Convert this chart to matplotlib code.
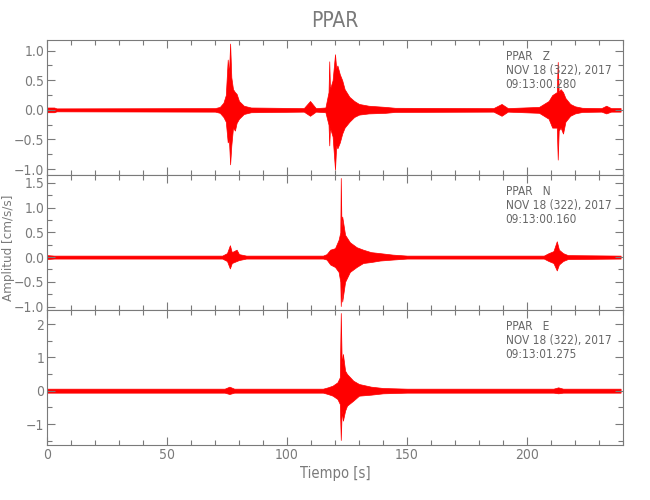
import matplotlib
matplotlib.use("Agg")
import matplotlib.pyplot as plt
from matplotlib.ticker import MultipleLocator

plt.rcParams['font.family'] = ['DejaVu Sans']
plt.rcParams['font.stretch'] = 'condensed'

# envelope of each component (time [s], upper, lower)
z_t = [0, 3, 4, 70, 72, 73.5, 74.5, 75.3, 75.8, 76.3, 76.8, 77.5, 78.3, 79, 80, 82, 85,
       107, 109.6, 112, 116, 117.3, 117.6, 117.9, 119, 120, 120.5, 121, 122, 123, 124, 126,
       128, 130, 134, 141, 145, 186, 189.4, 192, 205, 207, 209, 210.5, 212.4, 212.8, 213.2,
       214, 215, 216, 218, 220, 223, 231, 233, 235, 239]
z_up = [0.04, 0.04, 0.025, 0.03, 0.05, 0.12, 0.25, 0.85, 0.6, 1.12, 0.55, 0.35, 0.3, 0.27, 0.15, 0.07, 0.04,
        0.03, 0.15, 0.03, 0.04, 0.3, 0.82, 0.35, 0.5, 0.94, 0.7, 0.75, 0.6, 0.5, 0.35, 0.22,
        0.15, 0.1, 0.07, 0.05, 0.035, 0.03, 0.1, 0.03, 0.05, 0.1, 0.15, 0.25, 0.3, 0.81, 0.3,
        0.35, 0.3, 0.2, 0.1, 0.06, 0.035, 0.03, 0.07, 0.03, 0.03]
z_lo = [-0.04, -0.04, -0.025, -0.03, -0.05, -0.12, -0.2, -0.55, -0.5, -0.92, -0.6, -0.3, -0.35, -0.22, -0.15, -0.07, -0.04,
        -0.03, -0.1, -0.03, -0.04, -0.25, -0.6, -0.3, -0.45, -1.01, -0.6, -0.65, -0.55, -0.4, -0.3, -0.2,
        -0.12, -0.08, -0.06, -0.05, -0.035, -0.03, -0.1, -0.03, -0.05, -0.1, -0.15, -0.3, -0.3, -0.84, -0.35,
        -0.3, -0.4, -0.2, -0.1, -0.06, -0.035, -0.03, -0.06, -0.03, -0.03]

n_t = [0, 3, 73, 75, 76.2, 77, 79, 80, 83, 115, 116.5, 118, 120, 121.5, 122.2, 122.4, 122.7, 123,
       124.2, 126.2, 129, 131.7, 135, 138.7, 144, 150, 207, 209, 211, 212.4, 213.3, 215, 217, 239]
n_up = [0.04, 0.03, 0.03, 0.08, 0.24, 0.1, 0.15, 0.06, 0.03, 0.03, 0.06, 0.15, 0.18, 0.35, 0.5, 1.6, 0.6, 0.82,
        0.45, 0.3, 0.2, 0.15, 0.1, 0.08, 0.05, 0.03, 0.03, 0.08, 0.12, 0.32, 0.15, 0.08, 0.04, 0.03]
n_lo = [-0.04, -0.03, -0.03, -0.08, -0.23, -0.12, -0.08, -0.06, -0.03, -0.03, -0.05, -0.15, -0.2, -0.3, -0.5, -0.99, -0.6, -0.9,
        -0.5, -0.3, -0.2, -0.12, -0.1, -0.07, -0.05, -0.03, -0.03, -0.08, -0.12, -0.27, -0.15, -0.08, -0.04, -0.03]

e_t = [0, 74, 76, 78, 115, 117, 119, 121, 122, 122.4, 122.8, 123.3, 124.2, 125, 127.6, 130, 135,
       140, 150, 211, 213, 215, 239]
e_up = [0.06, 0.06, 0.12, 0.06, 0.06, 0.1, 0.15, 0.25, 0.4, 2.33, 0.8, 1.1, 0.6, 0.5, 0.3, 0.2, 0.12,
        0.08, 0.06, 0.06, 0.1, 0.06, 0.06]
e_lo = [-0.06, -0.06, -0.1, -0.06, -0.06, -0.1, -0.15, -0.25, -0.4, -1.48, -0.6, -0.9, -0.6, -0.45, -0.3, -0.15, -0.12,
        -0.08, -0.06, -0.06, -0.08, -0.06, -0.06]

components = ['Z', 'N', 'E']
start_times = ['09:13:00.280', '09:13:00.160', '09:13:01.275']
ylims = [(-1.1, 1.18), (-1.07, 1.66), (-1.63, 2.42)]
yticks = [[-1.0, -0.5, 0.0, 0.5, 1.0], [-1.0, -0.5, 0.0, 0.5, 1.0, 1.5], [-1, 0, 1, 2]]
ylabels = [['\u22121.0', '\u22120.5', '0.0', '0.5', '1.0'],
           ['\u22121.0', '\u22120.5', '0.0', '0.5', '1.0', '1.5'],
           ['\u22121', '0', '1', '2']]
yminor = [0.25, 0.25, 0.5]
traces = [(z_t, z_up, z_lo), (n_t, n_up, n_lo), (e_t, e_up, e_lo)]

gray = '#7a7a7a'
fig = plt.figure(figsize=(6.5, 5), dpi=100)
bottoms = [0.65, 0.38, 0.11]

for i in range(3):
    ax = fig.add_axes([0.0723, bottoms[i], 0.8862, 0.27])
    t, up, lo = traces[i]
    ax.fill_between(t, lo, up, color='red', lw=0.5)
    ax.set_xlim(0, 240)
    ax.set_ylim(*ylims[i])
    ax.set_yticks(yticks[i])
    ax.set_yticklabels(ylabels[i])
    ax.yaxis.set_minor_locator(MultipleLocator(yminor[i]))
    ax.xaxis.set_major_locator(MultipleLocator(50))
    ax.xaxis.set_minor_locator(MultipleLocator(10))
    ax.tick_params(which='both', direction='in', top=True, right=True, colors=gray,
                   labelsize=10, pad=2, width=0.8)
    ax.tick_params(which='major', length=6)
    ax.tick_params(which='minor', length=3.5)
    for sp in ax.spines.values():
        sp.set_color(gray)
        sp.set_linewidth(0.8)
    if i < 2:
        ax.set_xticklabels([])
    ax.text(0.796, 0.88, 'PPAR   ' + components[i], transform=ax.transAxes,
            color='#666666', fontsize=8.5, va='center')
    ax.text(0.796, 0.777, 'NOV 18 (322), 2017', transform=ax.transAxes,
            color='#666666', fontsize=8.5, va='center')
    ax.text(0.796, 0.672, start_times[i], transform=ax.transAxes,
            color='#666666', fontsize=8.5, va='center')
    if i == 2:
        ax.set_xlabel('Tiempo [s]', color=gray, fontsize=10.5, labelpad=3)

fig.text(0.515, 0.958, 'PPAR', ha='center', va='center', color=gray, fontsize=15)
fig.text(0.013, 0.505, 'Amplitud [cm/s/s]', rotation=90, ha='center', va='center',
         color=gray, fontsize=9.5)

fig.savefig('out.png', dpi=100)
